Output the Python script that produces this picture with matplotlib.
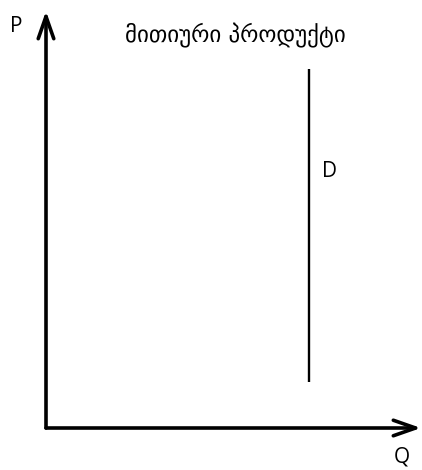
import matplotlib.pyplot as plt

# Datos
q_max = 10
p_max = 10
q_demanda = 7.0
p_demanda = [1.1, 8.6]

titulo = 'მითიური პროდუქტი'
etiqueta_p = 'P'
etiqueta_q = 'Q'
etiqueta_d = 'D'

plt.rcParams['font.family'] = ['Open Sans', 'DejaVu Sans']

fig = plt.figure(figsize=(4.22, 4.70), dpi=100)
ax = fig.add_axes([46 / 422, 42 / 470, 375 / 422, 417 / 470])
ax.set_xlim(0, q_max)
ax.set_ylim(0, p_max)
ax.axis('off')

# Ejes con flechas
flecha = dict(arrowstyle='->,head_length=0.8,head_width=0.28', lw=2.6,
              color='black', mutation_scale=20, shrinkA=0, shrinkB=0)
ax.annotate('', xy=(q_max, 0), xytext=(0, 0), arrowprops=flecha, annotation_clip=False)
ax.annotate('', xy=(0, p_max), xytext=(0, 0), arrowprops=flecha, annotation_clip=False)

# Curva de demanda
ax.plot([q_demanda, q_demanda], p_demanda, color='black', lw=1.7, solid_capstyle='butt')

# Etiquetas
ax.text(-0.8, 9.62, etiqueta_p, fontsize=15, ha='center', va='center')
ax.text(9.49, -0.70, etiqueta_q, fontsize=15, ha='center', va='center')
ax.text(q_demanda + 0.55, 6.16, etiqueta_d, fontsize=15, ha='center', va='center')
ax.text(5.05, 9.42, titulo, fontsize=16.5, ha='center', va='center',
        family=['DejaVu Sans'])

fig.savefig('out.png', dpi=100)
